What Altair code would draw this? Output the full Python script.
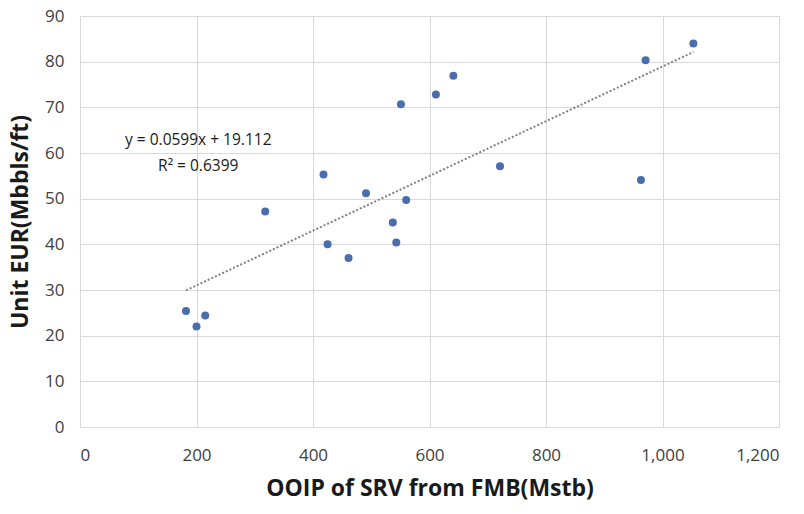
import altair as alt
import pandas as pd

ooip = [182, 200, 215, 318, 418, 425, 461, 491, 537, 543, 551, 560, 611, 641, 721, 963, 971, 1053]
eur = [25.4, 22.0, 24.4, 47.2, 55.3, 40.0, 37.0, 51.2, 44.8, 40.4, 70.7, 49.7, 72.8, 76.9, 57.1, 54.1, 80.3, 84.0]

annot_x = [203, 203]
annot_y = [62.8, 57.1]
annot_text = ["y = 0.0599x + 19.112", "R\u00b2 = 0.6399"]

df = pd.DataFrame({"ooip": ooip, "eur": eur})
ann = pd.DataFrame({"x": annot_x, "y": annot_y, "t": annot_text})

FONT = "Open Sans"

xscale = alt.Scale(domain=[0, 1200], nice=False, zero=False)
yscale = alt.Scale(domain=[0, 90], nice=False, zero=False)

xaxis = alt.Axis(
    values=[0, 200, 400, 600, 800, 1000, 1200], format=",d",
    title="OOIP of SRV from FMB(Mstb)", titleFontSize=23, titleFontWeight="bold",
    titleColor="#1a1a1a", titleFont=FONT, titlePadding=14,
    labelFont=FONT, labelFontSize=17, labelColor="#404040", labelPadding=20,
    ticks=False, domainColor="#d9d9d9", gridColor="#d9d9d9", grid=True,
)
yaxis = alt.Axis(
    values=list(range(0, 91, 10)),
    title="Unit EUR(Mbbls/ft)", titleFontSize=23, titleFontWeight="bold",
    titleColor="#1a1a1a", titleFont=FONT, titlePadding=12,
    labelFont=FONT, labelFontSize=17, labelColor="#404040", labelPadding=16,
    ticks=False, domainColor="#d9d9d9", gridColor="#d9d9d9", grid=True,
)

base = alt.Chart(df)

points = base.mark_circle(size=64, color="#4A6DAE", opacity=1).encode(
    x=alt.X("ooip:Q", scale=xscale, axis=xaxis),
    y=alt.Y("eur:Q", scale=yscale, axis=yaxis),
)

trend = base.transform_regression("ooip", "eur", extent=[min(ooip), max(ooip)]).mark_line(
    color="#808080", strokeDash=[2, 2], strokeWidth=2
).encode(
    x=alt.X("ooip:Q", scale=xscale),
    y=alt.Y("eur:Q", scale=yscale),
)

labels = alt.Chart(ann).mark_text(font=FONT, fontSize=15.5, color="#1a1a1a", align="center", baseline="middle").encode(
    x=alt.X("x:Q", scale=xscale),
    y=alt.Y("y:Q", scale=yscale),
    text="t:N",
)

chart = alt.layer(trend, points, labels).properties(
    width=699, height=411,
    autosize=alt.AutoSizeParams(type="none"),
    padding={"left": 80, "top": 16, "right": 25, "bottom": 87},
).configure_view(stroke=None).configure(background="white")

chart.save("out.html", embed_options={"renderer": "svg", "actions": False})
